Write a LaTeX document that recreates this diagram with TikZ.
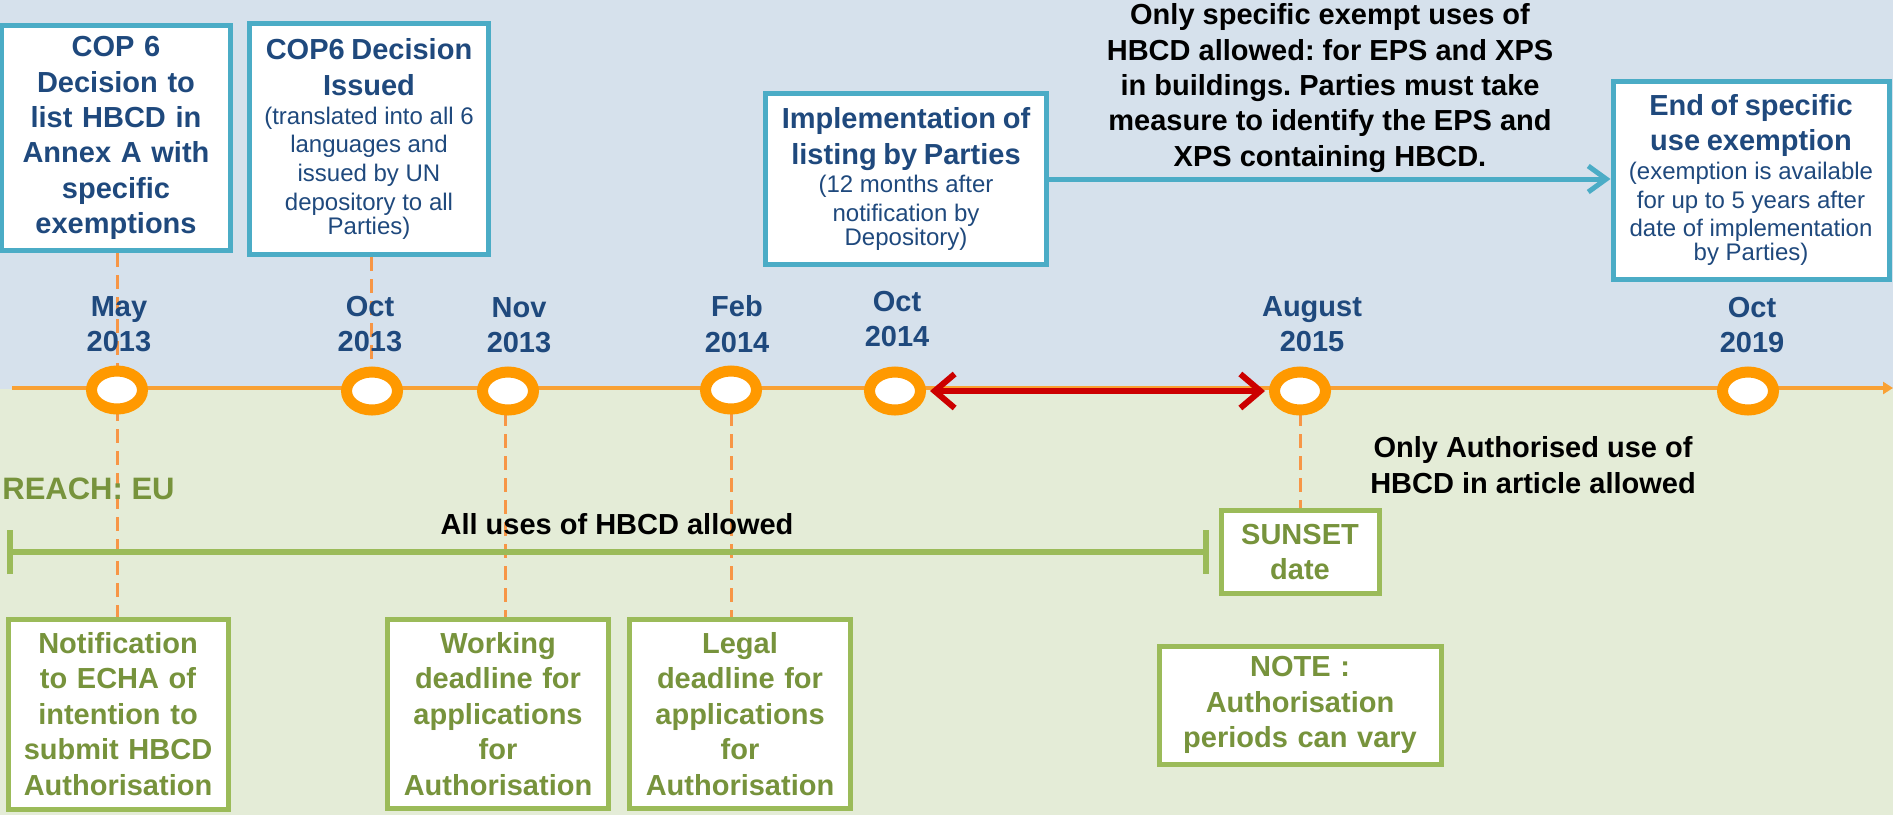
\documentclass[tikz,border=0pt]{standalone}
\usepackage{fontspec}
\setmainfont{Liberation Sans}
\usetikzlibrary{arrows.meta,shapes.geometric}
\frenchspacing

\definecolor{bgtop}{HTML}{D6E1EC}
\definecolor{bgbottom}{HTML}{E4ECD7}
\definecolor{boxblue}{HTML}{4BACC6}
\definecolor{darkblue}{HTML}{1F497D}
\definecolor{boxgreen}{HTML}{9BBB59}
\definecolor{textgreen}{HTML}{77933C}
\definecolor{dotorange}{HTML}{FF9900}
\definecolor{lineorange}{HTML}{F9A134}
\definecolor{guideorange}{HTML}{F79646}
\definecolor{spanred}{HTML}{CC0000}

\begin{document}
\begin{tikzpicture}[x=0.5pt,y=-0.5pt,
        boldtext/.style={font=\bfseries\fontsize{14.5}{17.7}\selectfont},
        topbox/.style={draw=boxblue,line width=2.5pt,fill=white,text=darkblue,align=center,inner sep=0pt},
        lowbox/.style={draw=boxgreen,line width=2.5pt,fill=white,text=textgreen,align=center,inner sep=0pt,boldtext},
        datelabel/.style={text=darkblue,align=center,boldtext},
        milestone/.style={ellipse,draw=dotorange,fill=white,line width=5.5pt,minimum width=25.5pt,minimum height=19pt,inner sep=0pt},
        guide/.style={draw=guideorange,line width=1.5pt,dash pattern=on 7pt off 4pt},
        timeline/.style={draw=lineorange,line width=2pt,-{Triangle[length=5pt,width=6pt]}},
        reachbar/.style={draw=boxgreen,line width=3pt,{Bar[width=22pt]}-{Bar[width=22pt]}},
        spanarrow/.style={draw=spanred,line width=3pt,{Straight Barb[length=10pt,width=17pt]}-{Straight Barb[length=10pt,width=17pt]},shorten <=2pt,shorten >=2pt},
        linkarrow/.style={draw=boxblue,line width=2.5pt,-{Straight Barb[length=9pt,width=13pt]}}]
    \useasboundingbox (0,0) rectangle (1893,815);
    \fill[bgtop] (0,0) rectangle (1893,389);
    \fill[bgbottom] (0,389) rectangle (1893,815);

    \coordinate (tlstart) at (12,388);
    \coordinate (tlend) at (1893,388);
    \draw[timeline] (tlstart) -- (tlend);

    \node[topbox,boldtext,text width=114.5pt,minimum height=112.5pt] (cop) at (116,138)
        {COP 6\\Decision to\\list HBCD in\\Annex A with\\specific\\exemptions};
    \node[topbox,text width=119.5pt,minimum height=115.5pt] (issued) at (369,139)
        {{\bfseries\fontsize{14.5}{17.7}\selectfont COP6 Decision\\Issued\par}\fontsize{12}{14.35}\selectfont
        (translated into all 6\\languages and\\issued by UN\\depository to all\\Parties)};
    \node[topbox,text width=140.5pt,minimum height=85.5pt] (impl) at (906,179)
        {{\bfseries\fontsize{14.5}{17.7}\selectfont Implementation of\\listing by Parties\par}\fontsize{12}{14.35}\selectfont
        (12 months after\\notification by\\Depository)};
    \node[topbox,text width=138pt,minimum height=99pt] (endex) at (1751,180)
        {{\bfseries\fontsize{14.5}{17.7}\selectfont End of specific\\use exemption\par}\fontsize{12}{14.35}\selectfont
        (exemption is available\\for up to 5 years after\\date of implementation\\by Parties)};

    \node[lowbox,text width=110pt,minimum height=95pt] (notif) at (118,714)
        {Notification\\to ECHA of\\intention to\\submit HBCD\\Authorisation};
    \node[lowbox,text width=110.5pt,minimum height=94.5pt] (working) at (498,714)
        {Working\\deadline for\\applications\\for\\Authorisation};
    \node[lowbox,text width=110.5pt,minimum height=94.5pt] (legal) at (740,714)
        {Legal\\deadline for\\applications\\for\\Authorisation};
    \node[lowbox,text width=79pt,minimum height=41.5pt] (sunset) at (1300,552)
        {SUNSET\\date};
    \node[lowbox,text width=141pt,minimum height=59pt] (note) at (1300,705)
        {NOTE :\\Authorisation\\periods can vary};

    \coordinate (may) at (117,390);
    \coordinate (oct13) at (371,390);
    \coordinate (nov) at (505,390);
    \coordinate (feb) at (731,390);
    \coordinate (aug) at (1300,390);

    \draw[guide] (may |- cop.south) -- (may |- notif.north);
    \draw[guide] (oct13 |- issued.south) -- (oct13);
    \draw[guide] (nov) -- (nov |- working.north);
    \draw[guide] (feb) -- (feb |- legal.north);
    \draw[guide] (aug) -- (aug |- sunset.north);

    \coordinate (reach) at (7,552);
    \draw[reachbar] (reach) -- ([xshift=-5pt]sunset.west);

    \node[milestone] (maydot) at (117,390) {};
    \node[milestone] (oct13dot) at (372,391) {};
    \node[milestone] (novdot) at (508,391) {};
    \node[milestone] (febdot) at (731,390) {};
    \node[milestone] (oct14dot) at (895,391) {};
    \node[milestone] (augdot) at (1300,391) {};
    \node[milestone] (oct19dot) at (1748,391) {};

    \draw[spanarrow] (oct14dot) -- (augdot);
    \draw[linkarrow] (impl.east) -- (impl.east -| endex.west);

    \node[datelabel] (maylbl) at (119,324) {May\\2013};
    \node[datelabel] (oct13lbl) at (370,324) {Oct\\2013};
    \node[datelabel] (novlbl) at (519,325) {Nov\\2013};
    \node[datelabel] (feblbl) at (737,324) {Feb\\2014};
    \node[datelabel] (oct14lbl) at (897,319) {Oct\\2014};
    \node[datelabel] (auglbl) at (1312,324) {August\\2015};
    \node[datelabel] (oct19lbl) at (1752,325) {Oct\\2019};

    \node[boldtext,align=center] (exempt) at (1330,88)
        {Only specific exempt uses of\\HBCD allowed: for EPS and XPS\\in buildings. Parties must take\\measure to identify the EPS and\\XPS containing HBCD.};
    \node[text=textgreen,font=\bfseries\fontsize{15.5}{18.5}\selectfont,anchor=west,inner xsep=0pt] (reachlbl) at (2,489) {REACH: EU};
    \node[boldtext] (alluses) at (617,524) {All uses of HBCD allowed};
    \node[boldtext,align=center] (authonly) at (1533,465) {Only Authorised use of\\HBCD in article allowed};
\end{tikzpicture}
\end{document}
